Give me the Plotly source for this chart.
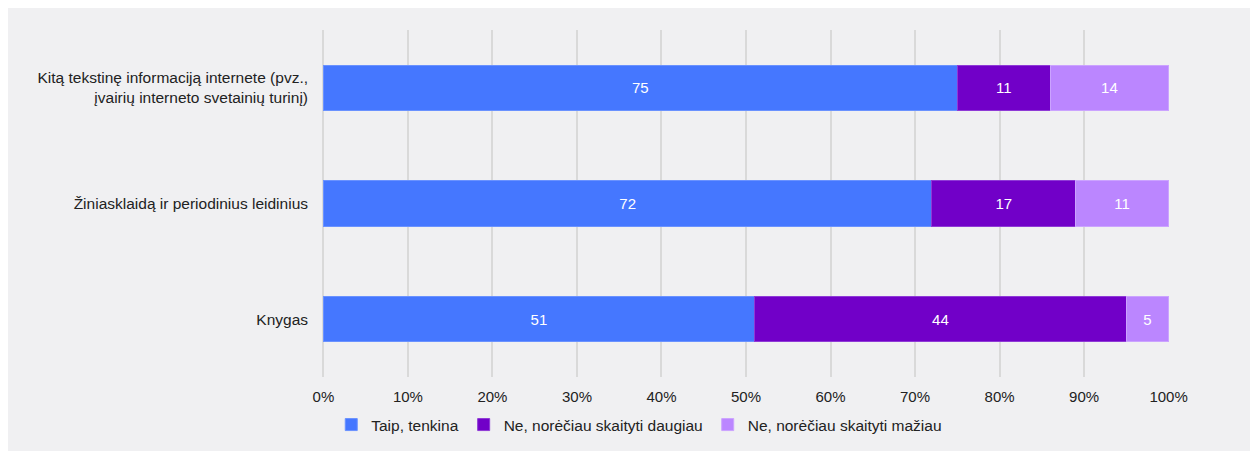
import plotly.graph_objects as go

categories = ["Knygas", "Žiniasklaidą ir periodinius leidinius",
              "Kitą tekstinę informaciją internete (pvz.,<br>įvairių interneto svetainių turinį)"]
series_names = ["Taip, tenkina", "Ne, norėčiau skaityti daugiau", "Ne, norėčiau skaityti mažiau"]
taip = [51, 72, 75]
daugiau = [44, 17, 11]
maziau = [5, 11, 14]
tick_vals = [0, 10, 20, 30, 40, 50, 60, 70, 80, 90, 100]
tick_text = ["0%", "10%", "20%", "30%", "40%", "50%", "60%", "70%", "80%", "90%", "100%"]

colors = ["#4577ff", "#7100c8", "#bb86ff"]
edge_colors = ["#6a92ff", "#8f3ad6", "#cba3ff"]
values = [taip, daugiau, maziau]

FONT = "Liberation Sans, Arial, sans-serif"

fig = go.Figure()
for name, vals, col, ec in zip(series_names, values, colors, edge_colors):
    fig.add_trace(go.Bar(
        y=categories, x=vals, name=name, orientation="h",
        marker=dict(color=col, line=dict(width=1, color=ec)),
        text=[str(v) for v in vals], textposition="inside",
        insidetextanchor="middle", textangle=0, constraintext="none",
        textfont=dict(color="white", size=15, family=FONT),
        width=0.39,
    ))

# page has an 8px body margin, so the figure is offset by 8px
OFF = 8
W, H = 1258 - OFF, 457 - OFF
l, t = 323 - OFF, 30 - OFF
r = W - (1169 - OFF)
b = H - (377 - OFF)
pw, ph = W - l - r, H - t - b

fig.add_shape(type="rect", xref="paper", yref="paper",
              x0=(6 - OFF - l) / pw, x1=(1252 - OFF - l) / pw,
              y0=((H - b) - (451 - OFF)) / ph, y1=((H - b) - (6 - OFF)) / ph,
              fillcolor="#f0f0f2", line=dict(width=0), layer="below")

fig.update_layout(
    width=W, height=H, barmode="stack",
    margin=dict(l=l, r=r, t=t, b=b, autoexpand=False),
    paper_bgcolor="white", plot_bgcolor="rgba(0,0,0,0)",
    font=dict(family=FONT, size=15.5, color="#222222"),
    xaxis=dict(range=[-0.05, 100.05], tickvals=tick_vals, ticktext=tick_text,
               showgrid=True, gridcolor="#d9d9d9", gridwidth=1.5,
               zeroline=True, zerolinecolor="#d9d9d9", zerolinewidth=1.5,
               showline=False, ticks="", tickangle=0,
               tickfont=dict(size=15),
               ticklabelstandoff=9, fixedrange=True, automargin=False),
    yaxis=dict(showgrid=False, zeroline=False, showline=False, ticks="",
               ticklabelstandoff=14, fixedrange=True, automargin=False),
    legend=dict(orientation="h", xref="container", x=0.505, xanchor="center",
                yref="container", y=1 - (425 - OFF) / H, yanchor="middle",
                font=dict(size=15.5), itemwidth=30, traceorder="normal",
                bgcolor="rgba(0,0,0,0)"),
    showlegend=True,
)

fig.write_html("out.html")
